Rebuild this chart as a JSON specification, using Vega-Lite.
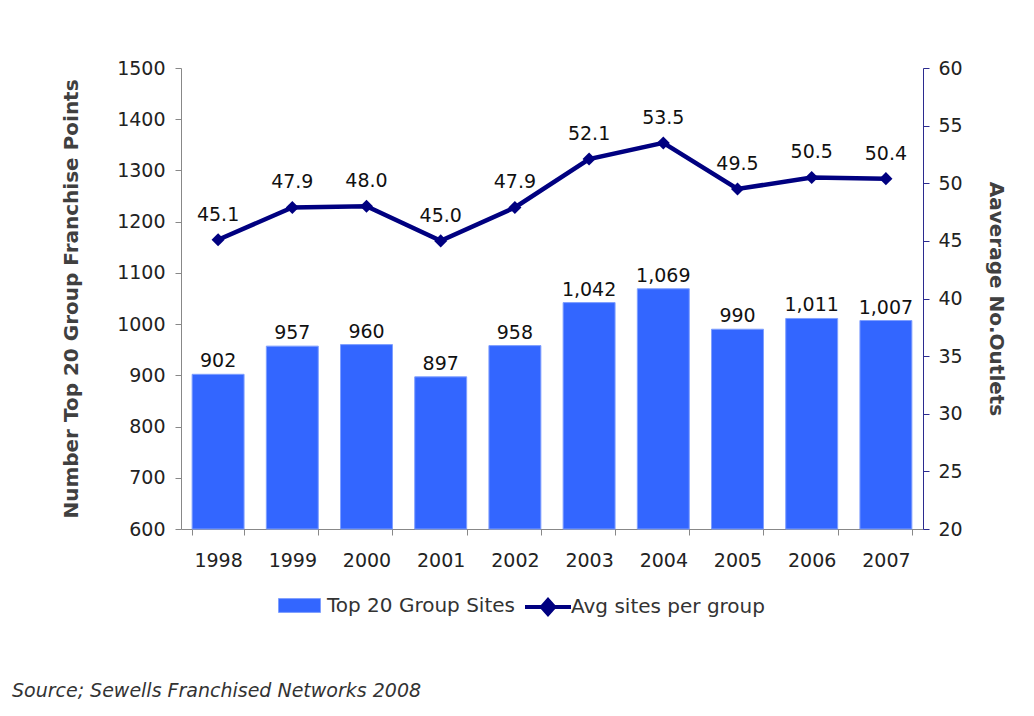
{
  "$schema": "https://vega.github.io/schema/vega-lite/v6.json",
  "width": 742,
  "height": 461,
  "autosize": {"type": "none"},
  "padding": {"left": 181, "top": 68, "right": 111, "bottom": 187},
  "background": "white",
  "config": {
    "font": "DejaVu Sans",
    "view": {"stroke": null},
    "axis": {"grid": false, "labelFont": "DejaVu Sans", "titleFont": "DejaVu Sans", "labelFontSize": 19, "labelColor": "#222222"},
    "legend": {"labelFont": "DejaVu Sans", "labelFontSize": 20, "labelColor": "#333333", "padding": 0, "labelLimit": 400}
  },
  "title": {
    "text": "Source; Sewells Franchised Networks 2008",
    "orient": "bottom",
    "anchor": "start",
    "frame": "group",
    "dx": -169,
    "offset": 60,
    "fontSize": 19,
    "fontStyle": "italic",
    "fontWeight": "normal",
    "color": "#333333"
  },
  "data": {
    "values": [
      {"year": "1998", "sites": 902, "avg": 45.1},
      {"year": "1999", "sites": 957, "avg": 47.9},
      {"year": "2000", "sites": 960, "avg": 48.0},
      {"year": "2001", "sites": 897, "avg": 45.0},
      {"year": "2002", "sites": 958, "avg": 47.9},
      {"year": "2003", "sites": 1042, "avg": 52.1},
      {"year": "2004", "sites": 1069, "avg": 53.5},
      {"year": "2005", "sites": 990, "avg": 49.5},
      {"year": "2006", "sites": 1011, "avg": 50.5},
      {"year": "2007", "sites": 1007, "avg": 50.4}
    ]
  },
  "encoding": {
    "x": {
      "field": "year",
      "type": "nominal",
      "scale": {"paddingInner": 0.3, "paddingOuter": 0.15},
      "axis": {
        "title": null,
        "labelAngle": 0,
        "tickBand": "extent",
        "tickSize": 6,
        "labelPadding": 16,
        "domainColor": "#888888",
        "tickColor": "#888888"
      }
    }
  },
  "layer": [
    {
      "encoding": {
        "y": {
          "field": "sites",
          "type": "quantitative",
          "scale": {"domain": [600, 1500], "nice": false, "zero": false},
          "axis": {
            "orient": "left",
            "format": "d",
            "values": [600, 700, 800, 900, 1000, 1100, 1200, 1300, 1400, 1500],
            "title": "Number Top 20 Group Franchise Points",
            "titleFontSize": 20,
            "titleFontWeight": "bold",
            "titleColor": "#404040",
            "titlePadding": 35,
            "labelPadding": 10,
            "tickSize": 6,
            "domainColor": "#888888",
            "tickColor": "#888888"
          }
        }
      },
      "layer": [
        {
          "mark": {"type": "bar", "stroke": "#7f9fff", "strokeWidth": 1},
          "encoding": {
            "y2": {"datum": 600},
            "fill": {
              "datum": "Top 20 Group Sites",
              "type": "nominal",
              "scale": {"range": ["#3366FF"]},
              "legend": {
                "title": null,
                "orient": "none",
                "legendX": 97,
                "legendY": 516,
                "symbolType": "M-1,-0.33L1,-0.33L1,0.33L-1,0.33Z",
                "symbolSize": 1764,
                "symbolStrokeColor": "#7f9fff",
                "symbolStrokeWidth": 1,
                "labelOffset": 6
              }
            }
          }
        },
        {
          "mark": {"type": "text", "baseline": "alphabetic", "dy": -7, "fontSize": 19, "color": "#111111"},
          "encoding": {"text": {"field": "sites", "type": "quantitative", "format": ",d"}}
        }
      ]
    },
    {
      "encoding": {
        "y": {
          "field": "avg",
          "type": "quantitative",
          "scale": {"domain": [20, 60], "nice": false, "zero": false},
          "axis": {
            "orient": "right",
            "values": [20, 25, 30, 35, 40, 45, 50, 55, 60],
            "title": "Aaverage No.Outlets",
            "titleAngle": 90,
            "titleFontSize": 20,
            "titleFontWeight": "bold",
            "titleColor": "#404040",
            "titlePadding": 23,
            "labelPadding": 9,
            "tickSize": 6,
            "domainColor": "#2b2b8f",
            "tickColor": "#2b2b8f"
          }
        }
      },
      "layer": [
        {
          "mark": {"type": "line", "strokeWidth": 4.5},
          "encoding": {
            "stroke": {
              "datum": "Avg sites per group",
              "type": "nominal",
              "scale": {"range": ["#000080"]},
              "legend": {
                "title": null,
                "orient": "none",
                "legendX": 342,
                "legendY": 514,
                "symbolType": "M-1,0L1,0M-0.27,0L0,-0.3L0.27,0L0,0.3Z",
                "symbolSize": 2116,
                "symbolStrokeWidth": 4,
                "symbolFillColor": "#000080",
                "labelOffset": -2,
                "encode": {"symbols": {"update": {"fill": {"value": "#000080"}}}}
              }
            }
          }
        },
        {
          "mark": {"type": "point", "shape": "diamond", "filled": true, "size": 170, "color": "#000080", "opacity": 1}
        },
        {
          "mark": {"type": "text", "baseline": "alphabetic", "dy": -19, "fontSize": 19, "color": "#111111"},
          "encoding": {"text": {"field": "avg", "type": "quantitative", "format": ".1f"}}
        }
      ]
    }
  ],
  "resolve": {"scale": {"y": "independent", "fill": "independent", "stroke": "independent"}}
}
